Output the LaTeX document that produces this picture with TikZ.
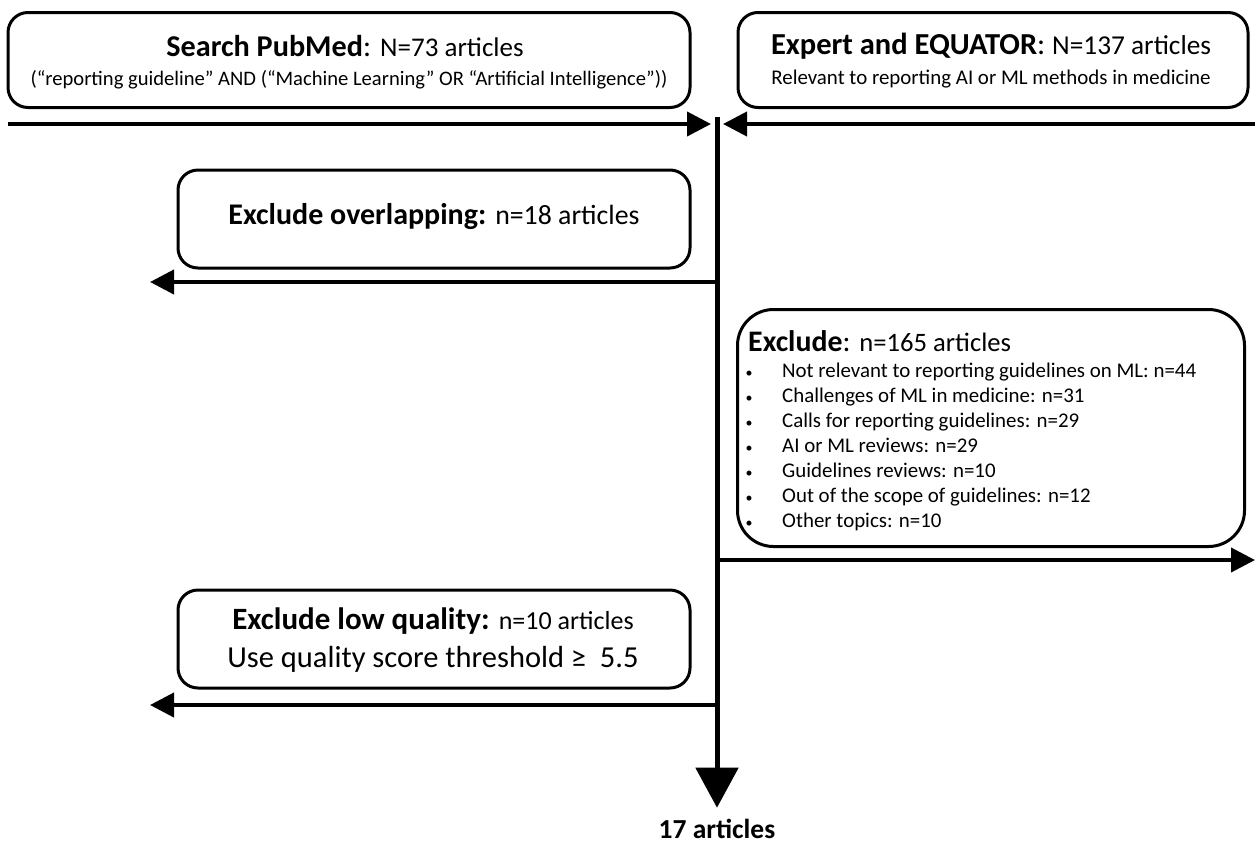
\documentclass[tikz,border=0pt]{standalone}
\usepackage{fontspec}
\setmainfont{Carlito}
\usetikzlibrary{arrows.meta}
\tikzset{
  box/.style={draw, line width=3pt, rounded corners=20pt, align=center, inner sep=0pt},
  flow/.style={line width=4pt, -{Triangle[length=24pt,width=24pt]}},
  flowbig/.style={line width=5pt, -{Triangle[length=40pt,width=42pt]}},
}
\newcommand{\fs}[1]{\fontsize{#1}{#1}\selectfont}

\begin{document}
\begin{tikzpicture}[x=1pt,y=-1pt]
    \useasboundingbox (0,0) rectangle (1255,847);
    % sources
    \node[box, minimum width=682pt, minimum height=95pt] (pubmed) at (349,60) {};
    \node (pubmedtxt) at (345,46) {\fs{30.2}\textbf{Search PubMed}: \fs{27}N=73 articles};
    \node (pubmedq) at (349,80) {\fs{20.6}(“reporting guideline” AND (“Machine Learning” OR “Artificial Intelligence”))};
    \node[box, minimum width=510pt, minimum height=95pt] (equator) at (993,60) {};
    \node (equatortxt) at (991,46) {\fs{30.5}\textbf{Expert and EQUATOR}: \fs{27.3}N=137 articles};
    \node (equatorsub) at (991,79) {\fs{20.9}Relevant to reporting AI or ML methods in medicine};
    %\\
    \coordinate (inl) at (8,124);
    \coordinate (inr) at (1255,124);
    \coordinate (jl) at (711,124);
    \coordinate (jr) at (723,124);
    \coordinate (top) at (717,117);
    \draw[flow] (inl) -- (jl);
    \draw[flow] (inr) -- (jr);
    %\\
    \node[box, minimum width=512pt, minimum height=98pt] (overlap) at (434,219) {};
    \node (overlaptxt) at (434,217) {\fs{30}\textbf{Exclude overlapping:} \fs{27.8}n=18 articles};
    \coordinate (s1) at (717,282);
    \coordinate (o1) at (150,282);
    \draw[flow] (s1) -- (o1);
    %\\
    \node[box, rounded corners=36pt, minimum width=507pt, minimum height=237pt] (excl) at (991,428) {};
    \node[anchor=west, inner xsep=0pt] (excltxt) at (748,341) {\fs{29.8}\textbf{Exclude}: \fs{26.6}n=165 articles};
    \foreach \t [count=\i] in {Not relevant to reporting guidelines on ML: n=44,
        Challenges of ML in medicine: n=31, Calls for reporting guidelines: n=29,
        AI or ML reviews: n=29, Guidelines reviews: n=10,
        Out of the scope of guidelines: n=12, Other topics: n=10}{
      \node[anchor=base, inner sep=0pt] (b\i) at (749,352+25*\i) {\fs{14}•};
      \node[anchor=base west, inner sep=0pt] (l\i) at (782,352+25*\i) {\fs{20.9}\t};
    }
    \coordinate (s2) at (717,560);
    \coordinate (o2) at (1255,560);
    \draw[flow] (s2) -- (o2);
    %\\
    \node[box, minimum width=512pt, minimum height=98pt] (lowq) at (434,639) {};
    \node (lowqtxt) at (433,621) {\fs{31}\textbf{Exclude low quality:} \fs{26}n=10 articles};
    \node (lowqsub) at (433,659) {\fs{30.5}Use quality score threshold ≥~ 5.5};
    \coordinate (s3) at (717,705);
    \coordinate (o3) at (150,705);
    \draw[flow] (s3) -- (o3);
    %\\
    \node (result) at (717,829) {\fs{27.5}\textbf{17 articles}};
    \draw[flowbig, shorten >=8pt] (top) -- (result.north);
\end{tikzpicture}
\end{document}
